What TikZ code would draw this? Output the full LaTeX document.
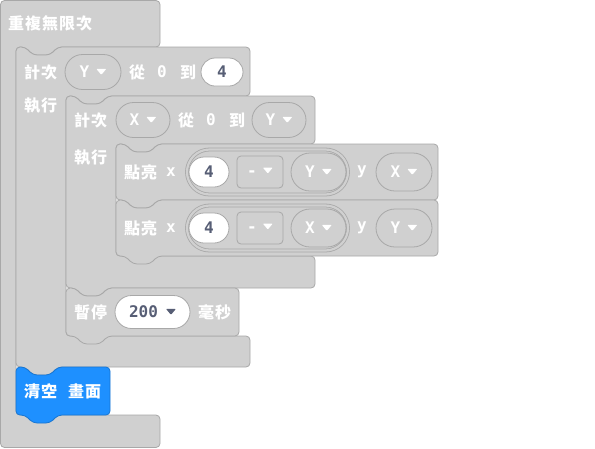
\documentclass[tikz,border=0pt]{standalone}
\usepackage{fontspec}
\setmainfont{DejaVu Sans Mono}
\newfontfamily\cjk{Noto Sans CJK TC}[LetterSpace=6]
\usetikzlibrary{shapes.misc}

\definecolor{blockgrey}{RGB}{208,208,208}
\definecolor{edgegrey}{RGB}{168,168,168}
\definecolor{numtext}{RGB}{87,94,117}
\definecolor{clearblue}{RGB}{30,144,255}
\definecolor{clearedge}{RGB}{24,118,210}

% small dropdown arrow
\newcommand{\ddarrow}[1][white]{\tikz[baseline=0pt]\fill[#1, rounded corners=0.8pt] (0pt,9pt) -- (10pt,9pt) -- (5pt,3pt) -- cycle;}
% statement block: left, top, right, bottom
\newcommand{\stmtpath}[4]{(#1,{(#2+#4)/2}) -- (#1,#2) -- ({#1+9},#2) -- ({#1+17},{#2+8}) -- ({#1+34},{#2+8}) -- ({#1+42},#2) -- (#3,#2) -- (#3,#4) -- ({#1+42},#4) -- ({#1+34},{#4+8}) -- ({#1+17},{#4+8}) -- ({#1+9},#4) -- (#1,#4) -- cycle}
% loop block: left, top, right, row bottom, bar top, bottom
\newcommand{\looppath}[6]{(#1,{(#2+#6)/2}) -- (#1,#2) -- ({#1+9},#2) -- ({#1+17},{#2+8}) -- ({#1+34},{#2+8}) -- ({#1+42},#2) -- (#3,#2) -- (#3,#4) -- ({#1+92},#4) -- ({#1+84},{#4+8}) -- ({#1+67},{#4+8}) -- ({#1+59},#4) -- ({#1+50},#4) -- ({#1+50},#5) -- (#3,#5) -- (#3,#6) -- ({#1+42},#6) -- ({#1+34},{#6+8}) -- ({#1+17},{#6+8}) -- ({#1+9},#6) -- (#1,#6) -- cycle}

\begin{document}
\begin{tikzpicture}[x=1pt, y=-1pt,
    blk/.style={fill=blockgrey, draw=edgegrey, line width=0.8pt, rounded corners=4pt},
    lbl/.style={text=white, inner sep=0, font=\cjk\bfseries\fontsize{16}{16}\selectfont},
    txt/.style={text=white, inner sep=0, font=\bfseries\fontsize{16}{16}\selectfont},
    pill/.style={txt, shape=rounded rectangle, draw=edgegrey, fill=blockgrey, line width=0.8pt, minimum height=35},
    numpill/.style={pill, fill=white, text=numtext, minimum height=28},
    droprect/.style={txt, draw=edgegrey, fill=blockgrey, line width=0.8pt, rounded corners=4pt, minimum width=46, minimum height=32},
    report/.style={shape=rounded rectangle, draw=edgegrey, double=blockgrey, double distance=2.2pt, fill=blockgrey, line width=0.8pt, minimum width=161, minimum height=45, inner sep=0}]
  \useasboundingbox (0,0) rectangle (595,448);

  % Blocks
  \draw[blk] (0.5,200) -- (0.5,0.5) -- (160,0.5) -- (160,47) -- (58,47) -- (50,55) -- (33,55) -- (25,47) -- (16,47) -- (16,415) -- (160,415) -- (160,447.5) -- (0.5,447.5) -- cycle;
  \draw[blk] \looppath{16}{47}{250}{96}{336}{367};
  \draw[blk] \looppath{66}{96}{315}{144}{256}{288};
  \draw[blk] \stmtpath{116}{144}{438}{200};
  \draw[blk] \stmtpath{116}{200}{438}{256};
  \draw[blk] \stmtpath{66}{288}{239}{336};
  \draw[blk, fill=clearblue, draw=clearedge] \stmtpath{16}{367}{110}{415};

  % Forever
  \node[lbl, anchor=west] (forever) at (8,23) {重複無限次};

  % Outer loop
  \node[lbl, anchor=west] (countY) at (24,72) {計次};
  \node[pill, minimum width=56] (varY) at (93,72) {Y\hspace{7pt}\ddarrow};
  \node[lbl] (fromY) at (137,72) {從};
  \node[txt] (zeroY) at (162,72) {0};
  \node[lbl] (toY) at (188,72) {到};
  \node[numpill, minimum width=42] (limY) at (222,72) {4};
  \node[lbl, anchor=west] (doY) at (24,106) {執行};

  % Inner loop
  \node[lbl, anchor=west] (countX) at (74,120) {計次};
  \node[pill, minimum width=54] (varX) at (143,120) {X\hspace{7pt}\ddarrow};
  \node[lbl] (fromX) at (186,120) {從};
  \node[txt] (zeroX) at (211,120) {0};
  \node[lbl] (toX) at (237,120) {到};
  \node[pill, minimum width=54] (limX) at (279,120) {Y\hspace{7pt}\ddarrow};
  \node[lbl, anchor=west] (doX) at (74,158) {執行};

  % Plot (4-Y, X)
  \node[lbl, anchor=west] (plotA) at (124,172) {點亮};
  \node[txt] (xA) at (171,172) {x};
  \node[report] (subA) at (267.5,172) {};
  \node[numpill, minimum width=40, minimum height=30] (fourA) at (209,172) {4};
  \node[droprect] (minusA) at (260,172) {-\hspace{6pt}\ddarrow};
  \node[pill, minimum width=55, minimum height=38] (subvarA) at (318.5,172) {Y\hspace{7pt}\ddarrow};
  \node[txt] (yA) at (362,172) {y};
  \node[pill, minimum width=56, minimum height=38] (yvarA) at (404,172) {X\hspace{7pt}\ddarrow};

  % Plot (4-X, Y)
  \node[lbl, anchor=west] (plotB) at (124,228) {點亮};
  \node[txt] (xB) at (171,228) {x};
  \node[report] (subB) at (267.5,228) {};
  \node[numpill, minimum width=40, minimum height=30] (fourB) at (209,228) {4};
  \node[droprect] (minusB) at (260,228) {-\hspace{6pt}\ddarrow};
  \node[pill, minimum width=55, minimum height=38] (subvarB) at (318.5,228) {X\hspace{7pt}\ddarrow};
  \node[txt] (yB) at (362,228) {y};
  \node[pill, minimum width=56, minimum height=38] (yvarB) at (404,228) {Y\hspace{7pt}\ddarrow};

  % Pause
  \node[lbl, anchor=west] (pause) at (74,312) {暫停};
  \node[numpill, minimum width=75, minimum height=33] (msval) at (152.5,312) {200\hspace{8pt}\ddarrow[numtext]};
  \node[lbl, anchor=west] (msunit) at (198,312) {毫秒};

  % Clear screen
  \node[lbl, anchor=west] (clear) at (24,391) {清空\hspace{11pt}畫面};
\end{tikzpicture}
\end{document}
